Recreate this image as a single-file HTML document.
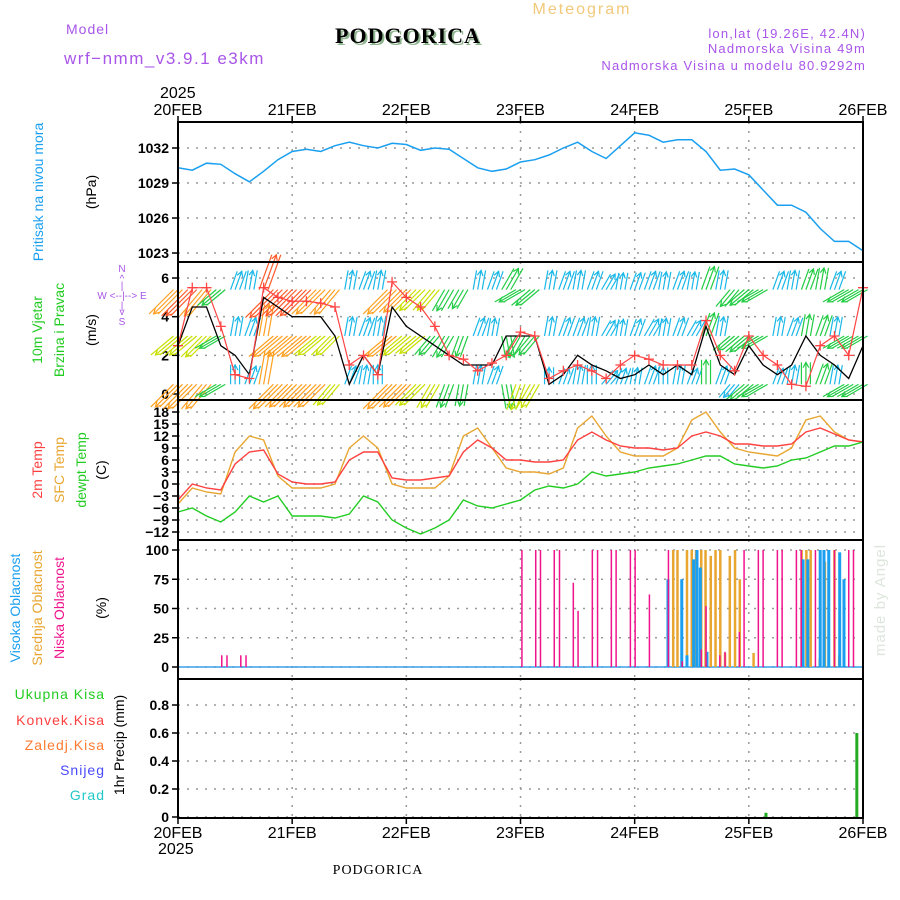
<!DOCTYPE html>
<html><head><meta charset="utf-8"><style>
html,body{margin:0;padding:0;background:#fff;}
svg{display:block;font-family:"Liberation Sans",sans-serif;}
</style></head><body>
<svg id="c" width="900" height="900" viewBox="0 0 900 900" xmlns="http://www.w3.org/2000/svg">
<text x="582" y="14" font-size="16" fill="#f2c87a" text-anchor="middle" letter-spacing="2">Meteogram</text>
<text x="66" y="34" font-size="14" fill="#a855e8" letter-spacing="1">Model</text>
<text x="64" y="64" font-size="17" fill="#a855e8" letter-spacing="1.5">wrf−nmm_v3.9.1 e3km</text>
<text x="410" y="45" font-size="22" font-weight="bold" font-family="Liberation Serif,serif" fill="#8fb58f" text-anchor="middle" letter-spacing="1">PODGORICA</text>
<text x="408" y="43" font-size="22" font-weight="bold" font-family="Liberation Serif,serif" fill="#000" text-anchor="middle" letter-spacing="1">PODGORICA</text>
<text x="866" y="38" font-size="13" fill="#a855e8" text-anchor="end" letter-spacing="1.2">lon,lat (19.26E, 42.4N)</text>
<text x="866" y="53" font-size="13" fill="#a855e8" text-anchor="end" letter-spacing="1.2">Nadmorska Visina 49m</text>
<text x="866" y="70" font-size="13" fill="#a855e8" text-anchor="end" letter-spacing="1.2">Nadmorska Visina u modelu 80.9292m</text>
<text x="160" y="98" font-size="16" fill="#000">2025</text>
<text x="378" y="874" font-size="14" font-family="Liberation Serif,serif" fill="#000" text-anchor="middle" letter-spacing="1">PODGORICA</text>
<text transform="translate(885,600) rotate(-90)" font-size="15" fill="#dde6dd" text-anchor="middle" letter-spacing="1">made by Angel</text>
<g id="g"></g>
</svg>
<script>
const pressure=[1030.3,1030.1,1030.7,1030.6,1029.8,1029.1,1030,1031,1031.7,1031.9,1031.7,1032.2,1032.5,1032.2,1032,1032.4,1032.3,1031.8,1032,1031.9,1031.1,1030.3,1030,1030.2,1030.8,1031,1031.4,1032,1032.5,1031.7,1031.1,1032.2,1033.3,1033.1,1032.5,1032.7,1032.7,1031.7,1030.1,1030.2,1029.7,1028.4,1027.1,1027.1,1026.5,1025.1,1024,1024,1023.2];
const windSpeed=[2.5,4.5,4.5,2.5,2,1,5,4.5,4,4,4,3,0.5,2,1,4.5,3.5,3,2.5,2,1.5,1.5,1.5,3,3,3,0.5,1,2,1.5,1.2,0.8,1,1.5,1,1.5,1,3.5,1.5,1,2.5,1.5,1,1.5,3,2,1.5,0.8,2.5];
const gust=[2.5,5.5,5.5,3.5,1,0.8,5.5,5,4.8,4.8,4.7,4.5,1.5,2,1,5.8,5,4.5,3.5,2,1.8,1.2,1.6,2,3.2,3,0.8,1.2,1.5,1.2,0.8,1.5,2,1.8,1.5,1.5,1.5,3.8,2,1.2,3,2,1.5,0.5,0.4,2.5,3,2,5.5];
const dirLow=[45,45,40,60,180,200,190,45,45,45,45,40,200,190,180,45,45,45,30,20,10,190,200,350,20,30,180,200,190,180,220,200,190,200,180,190,200,180,200,40,50,60,200,190,180,200,190,60,60];
const spdLow=[4,4.5,4,2.5,1.5,1.5,4.5,4.5,4,4,4,3,1.5,1.5,1.5,4.5,4,3.5,3,2.5,2,1.5,1.5,2.5,3,3,1,1,1.5,1.5,1.2,1,1,1.5,1,1.5,1,2.5,1.5,1,2.5,2.5,1,1.5,2,2,1.5,2.5,2.5];
const dirMid=[50,50,45,60,190,200,190,50,50,50,50,45,190,200,190,50,50,50,40,30,20,200,190,350,30,40,190,200,200,190,210,190,200,210,190,200,210,200,190,50,50,60,190,200,190,200,190,60,60];
const spdMid=[3.5,3.5,3.5,2.5,1.5,1.5,4,4,4,4,3.5,3,1.5,1.5,1.5,4,3.5,3,2.5,2.5,2,1.5,1.2,2,2.5,2.5,1.5,1.5,1.5,1.5,1.2,1,1.2,1.5,1.2,1.5,1.2,2.5,1.5,2,2.5,2.5,1.5,1.5,2,2,1.5,2.5,2.5];
const dirHigh=[45,45,40,50,200,190,200,45,45,45,45,40,190,200,190,45,45,45,40,30,30,190,200,210,60,50,190,200,190,200,210,190,200,200,190,200,190,200,190,40,50,60,200,190,200,190,200,60,60];
const spdHigh=[4.5,5,4.5,2.5,1.5,1.5,5,5.5,5,5,4.5,4,1.5,1.5,1.5,4.5,4,3.5,3,2.5,2,1.5,1.5,2.5,2.5,2.5,1.5,1.5,1.5,1.5,1.2,1,1.2,1.5,1.2,1.5,1.2,2.5,1.5,2,2.5,2.5,1.5,1.5,2,2,1.5,2.5,2.5];
const t2m=[-4,0,-1,-1.5,5,8,8.5,2.5,0.5,0,0,0.5,6,8,8,1.5,1,1,1.5,2,8,11,9,6,6,5.5,5.5,6,11,13,11,9.5,9,9,8.5,9,12,13,12,10,10,9.5,9.5,10,13,14,12.5,11,10.5];
const tsfc=[-5,-1,-2,-2.5,8,12,11,2,-1,-1,-1,0,9,12,9,0,-1,-1,-1,2,12,14,9,4,3,3,2.5,4,14,17,12,8,7,7,7,9,16,18,13,9,8,7.5,7,9,16,17,13,11,10.5];
const dewpt=[-7,-6,-8,-9.5,-7,-3,-4.5,-3,-8,-8,-8,-8.5,-7.5,-3,-4.5,-9,-11,-12.5,-11,-9,-4,-5.5,-6,-5,-4,-1.5,-0.5,-1,0,3,2,2.5,3,4,4.5,5,6,7,7,5,4.5,4,4.5,6,6.5,8,9.5,9.5,10.5];
const lowCloudHours=[9.2,10.3,13.2,14.3,72.3,75.2,76.2,79.1,80.2,83.1,84.1,87.1,88.2,91.1,92.1,95.1,96.1,99.1,103.1,106,110,111,113.9,115,118,119,122,123,126,127,130,131,134,138,141,142];
const lowCloud=[10,10,10,10,100,100,100,100,100,72,48,100,100,100,100,100,100,62,100,5,15,52,10,13,30,100,100,100,100,100,100,100,100,100,100,100];
const midCloudHours=[104.1,105,107,108,108.9,110,110.9,112,113,114,115,116,117.1,118.1,121,131.1,132.1,133,134.9,136,138,139,140];
const midCloud=[100,100,100,100,100,100,100,95,100,100,12,95,100,75,12,100,100,100,7,90,100,10,7];
const highCloudHours=[103,105.9,107,108.4,109.1,109.8,111.2,131.4,132.4,135,135.8,136.8,139.1,140];
const highCloud=[75,75,10,92,100,85,13,92,92,100,100,100,98,75];
const precipHours=[123.6,142.7];
const precipTotal=[0.03,0.6];
const dayLabels=["20FEB","21FEB","22FEB","23FEB","24FEB","25FEB","26FEB"];
const pTicks=[1023,1026,1029,1032];
const wTicks=[0,2,4,6];
const tTicks=[-12,-9,-6,-3,0,3,6,9,12,15,18];
const cTicks=[0,25,50,75,100];
const rTicks=[0,0.2,0.4,0.6,0.8];

const NS="http://www.w3.org/2000/svg";
const G=document.getElementById('g');
const X0=178,X1=863;
const xh=h=>X0+(X1-X0)*h/144;
function mk(tag,attrs,parent){const e=document.createElementNS(NS,tag);for(const k in attrs)e.setAttribute(k,attrs[k]);(parent||G).appendChild(e);return e;}
const yP=v=>148+(1032-v)*11.67;
const yW=v=>394-v*19.33;
const yT=v=>484-v*4;
const yC=v=>667-v*1.17;
const yR=v=>817-v*140;
const panels=[{y0:122,y1:262,f:yP,ticks:pTicks,name:'pressure'},{y0:262,y1:400,f:yW,ticks:wTicks,name:'wind'},{y0:400,y1:540,f:yT,ticks:tTicks,name:'temp'},{y0:540,y1:679,f:yC,ticks:cTicks,name:'cloud'},{y0:679,y1:818,f:yR,ticks:rTicks,name:'precip'}];
panels.forEach(p=>{
  const g=mk('g',{});
  
  
  p.ticks.forEach(t=>{const y=p.f(t);
    const l=mk('line',{x1:X0,x2:X1,y1:y,y2:y,stroke:'#999','stroke-dasharray':'2,7','stroke-width':1.5},g);
    
    
    const tk=mk('line',{x1:X0-6,x2:X0,y1:y,y2:y,stroke:'#000','stroke-width':1.5},g);
    
    
    const tx=mk('text',{x:X0-9,y:y+5,'font-size':14,'font-weight':'bold','text-anchor':'end'},g);
    tx.textContent=(t<0?'−'+(-t):String(t));
    
    
  });
  for(let d=1;d<6;d++){const x=xh(d*24);
    const l=mk('line',{x1:x,x2:x,y1:p.y0,y2:p.y1,stroke:'#999','stroke-dasharray':'2,7','stroke-width':1.5},g);
    
    }
});
function line(arr,f,color,name,w){
  const pts=arr.map((v,i)=>xh(i*3).toFixed(1)+','+f(v).toFixed(1)).join(' ');
  const e=mk('polyline',{points:pts,fill:'none',stroke:color,'stroke-width':w||1.5});
  
  
  return e;
}
line(pressure,yP,'#1a9ff0','pressure-line',1.5);
function windColor(s){const c=['#8a2be2','#19b8e8','#22cc44','#c8e000','#ffa020','#ff5a2a','#ff1493'];return c[Math.max(0,Math.min(6,Math.floor(s)))];}
function arrows(dirs,spds,level,name){
  const g=mk('g',{});
  
  
  dirs.forEach((d,i)=>{
    const x=xh(i*3),y=yW(level);const L=12+spds[i]*5;
    const a=(d+180)*Math.PI/180;const dx=Math.sin(a)*L,dy=-Math.cos(a)*L;
    const col=windColor(spds[i]);
    for(let k=0;k<3;k++){const ox=k*4.5-4.5;
      mk('line',{x1:x+ox,y1:y,x2:x+ox+dx,y2:y+dy,stroke:col,'stroke-width':1.2},g);}
    const hx=x+dx,hy=y+dy,ang=Math.atan2(dy,dx);
    mk('polyline',{points:`${hx-6*Math.cos(ang-0.5)},${hy-6*Math.sin(ang-0.5)} ${hx},${hy} ${hx-6*Math.cos(ang+0.5)},${hy-6*Math.sin(ang+0.5)}`,fill:'none',stroke:col,'stroke-width':1.2},g);
  });
}
arrows(dirLow,spdLow,0.5,'wind-arrows-low');
arrows(dirMid,spdMid,3.0,'wind-arrows-mid');
arrows(dirHigh,spdHigh,5.4,'wind-arrows-high');
line(windSpeed,yW,'#000','wind-speed-line',1.3);
line(gust,yW,'#ff4444','wind-gust-line',1.2);
gust.forEach((v,i)=>{const x=xh(i*3),y=yW(v);
  const e=mk('path',{d:`M${x-5},${y}h10M${x},${y-5}v10`,stroke:'#ff4444','stroke-width':1.3});
  
  });
line(tsfc,yT,'#e8a630','sfc-temp-line',1.4);
line(t2m,yT,'#ff4040','temp-2m-line',1.4);
line(dewpt,yT,'#22cc22','dewpoint-line',1.4);
function bars(hours,vals,f,color,name,w){vals.forEach((v,i)=>{const x=xh(hours[i]);
  const e=mk('rect',{x:x-w/2,y:f(v),width:w,height:f(0)-f(v),fill:color});
  
  });}
const base=mk('line',{x1:X0,x2:X1,y1:yC(0),y2:yC(0),stroke:'#3aa0e8','stroke-width':1.5});


bars(midCloudHours,midCloud,yC,'#e8a630','mid-cloud-bar',2.5);
bars(highCloudHours,highCloud,yC,'#1a9ff0','high-cloud-bar',3);
bars(lowCloudHours,lowCloud,yC,'#f0148c','low-cloud-bar',1.5);
bars(precipHours,precipTotal,yR,'#22aa22','precip-bar',3);
panels.forEach(p=>{const r=mk('rect',{x:X0,y:p.y0,width:X1-X0,height:p.y1-p.y0,fill:'none',stroke:'#000','stroke-width':2});
  
  });
dayLabels.forEach((d,i)=>{const x=xh(i*24);
  const t1=mk('text',{x:x,y:115,'font-size':16,'text-anchor':'middle'});t1.textContent=d;
  
  
  const t2=mk('text',{x:x,y:838,'font-size':16,'text-anchor':'middle'});t2.textContent=d;
  
  
  [122,818].forEach(y=>{const tk=mk('line',{x1:x,x2:x,y1:y-(y<200?6:0),y2:y+(y<200?0:6),stroke:'#000','stroke-width':1.5});
    
    });
});
const yr=mk('text',{x:158,y:854,'font-size':16});yr.textContent='2025';


function vt(x,y,txt,col,name,fs){const e=mk('text',{transform:`translate(${x},${y}) rotate(-90)`,'font-size':fs||14,fill:col,'text-anchor':'middle'});e.textContent=txt;
  
  }
vt(43,192,'Pritisak na nivou mora','#1a9ff0','pressure-title');
vt(96,192,'(hPa)','#000','pressure-unit');
vt(42,330,'10m Vjetar','#22cc22','wind-title');
vt(64,330,'Brzina i Pravac','#22cc22','wind-title-2');
vt(96,330,'(m/s)','#000','wind-unit');
vt(42,470,'2m Temp','#ff4040','temp-2m-title');
vt(64,470,'SFC Temp','#e8a630','sfc-temp-title');
vt(86,470,'dewpt Temp','#22cc22','dewpt-title');
vt(106,470,'(C)','#000','temp-unit');
vt(20,608,'Visoka Oblacnost','#1a9ff0','high-cloud-title');
vt(42,608,'Srednja Oblacnost','#e8a630','mid-cloud-title');
vt(64,608,'Niska Oblacnost','#f0148c','low-cloud-title');
vt(106,608,'(%)','#000','cloud-unit');
vt(124,745,'1hr Precip (mm)','#000','precip-title');
[['Ukupna  Kisa','#22cc22',699],['Konvek.Kisa','#ff4040',725],['Zaledj.Kisa','#ff7a30',750],['Snijeg','#4a4aff',775],['Grad','#22c8c8',800]].forEach(a=>{
  const e=mk('text',{x:105,y:a[2],'font-size':14,fill:a[1],'text-anchor':'end','letter-spacing':1});e.textContent=a[0];
  
  });
const cp=mk('g',{fill:'#a855e8','font-size':10,'text-anchor':'middle'});


[['N',122,272],['^',122,282],['|',122,289],['W  <--|-->  E',122,299],['|',122,309],['v',122,315],['S',122,325]].forEach(a=>{
  const t=mk('text',{x:a[1],y:a[2]},cp);t.textContent=a[0];});
</script>
</body></html>
